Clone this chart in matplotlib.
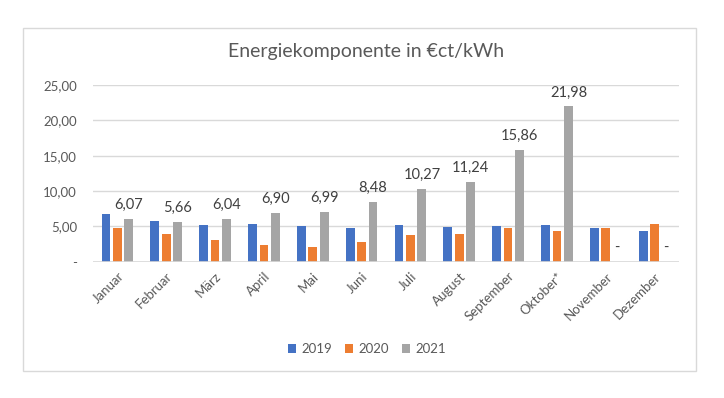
import matplotlib
matplotlib.use("Agg")
import matplotlib.pyplot as plt
import numpy as np
from matplotlib.patches import Rectangle

months = ["Januar", "Februar", "März", "April", "Mai", "Juni", "Juli",
          "August", "September", "Oktober*", "November", "Dezember"]
y2019 = [6.74, 5.75, 5.19, 5.33, 5.05, 4.76, 5.19, 4.95, 5.09, 5.19, 4.81, 4.29]
y2020 = [4.76, 3.90, 3.11, 2.40, 2.07, 2.73, 3.77, 3.96, 4.81, 4.29, 4.81, 5.33]
y2021 = [6.07, 5.66, 6.04, 6.90, 6.99, 8.48, 10.27, 11.24, 15.86, 21.98, 0, 0]
yticks = [0, 5, 10, 15, 20, 25]

plt.rcParams['font.family'] = ['Lato', 'DejaVu Sans']
txt = '#595959'

fig = plt.figure(figsize=(7.24, 3.98), dpi=100)
fig.patches.append(Rectangle((23/724, 1-371/398), 673/724, 343/398,
                             transform=fig.transFigure, fill=False,
                             edgecolor='#D9D9D9', linewidth=1))
ax = fig.add_axes([93/724, 1-261.7/398, 586/724, 176.7/398])

x = np.arange(len(months))
w = 0.18
step = 0.235
b1 = ax.bar(x - step, y2019, w, color='#4472C4', label='2019')
b2 = ax.bar(x, y2020, w, color='#ED7D31', label='2020')
b3 = ax.bar(x + step, y2021, w, color='#A5A5A5', label='2021')

def fmt(v):
    return '-' if v == 0 else f"{v:.2f}".replace('.', ',')

ax.bar_label(b3, labels=[fmt(v) for v in y2021], padding=5,
             fontsize=10.5, color='#404040')

ax.set_xlim(-0.5, len(months) - 0.5)
ax.set_ylim(0, 25)
ax.set_yticks(yticks)
ax.set_yticklabels([fmt(v) for v in yticks], fontsize=9.5, color=txt)
ax.set_xticks(x)
ax.set_xticklabels(months, rotation=45, ha='right', rotation_mode='anchor',
                   fontsize=9.5, color=txt)
ax.tick_params(length=0)
ax.tick_params(axis='y', pad=11.5)
ax.tick_params(axis='x', pad=6)
for s in ax.spines.values():
    s.set_visible(False)
ax.grid(axis='y', color='#D9D9D9', linewidth=1)
ax.set_axisbelow(True)
ax.axhline(0, color='#D9D9D9', linewidth=1.2)

fig.text(0.505, 1-51/398, 'Energiekomponente in €ct/kWh', ha='center',
         va='center', fontsize=14, color=txt)
fig.legend(loc='center', bbox_to_anchor=(367/724, 1-349/398), ncol=3,
           frameon=False, fontsize=9.5, labelcolor=txt, handlelength=0.6,
           handleheight=0.6, columnspacing=1.0, handletextpad=0.4)

fig.savefig('out.png', dpi=100)
